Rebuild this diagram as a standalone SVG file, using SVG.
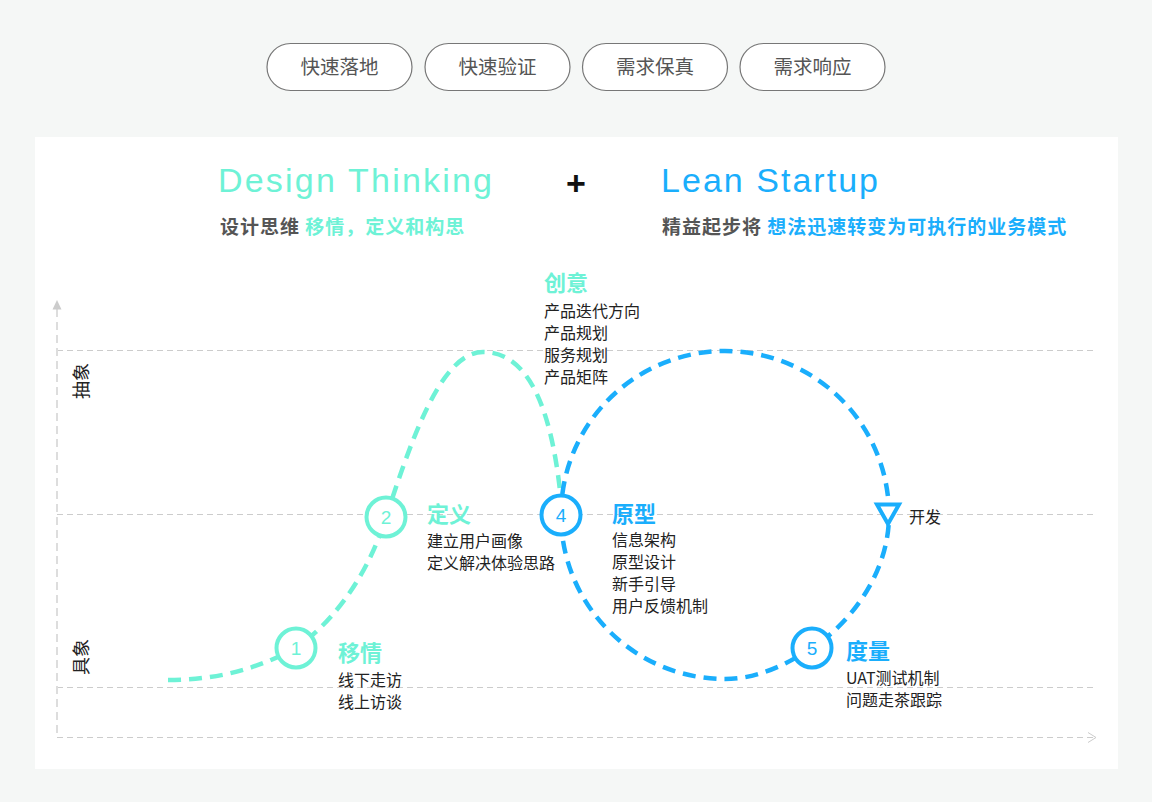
<svg xmlns="http://www.w3.org/2000/svg" width="1152" height="802" viewBox="0 0 1152 802">
<style>
.pill{fill:#fff;stroke:#777;stroke-width:1.2}
.pt{font-family:"Noto Sans CJK SC","Noto Sans",sans-serif;font-size:19.5px;fill:#555;text-anchor:middle}
.title{font-family:"Liberation Sans","Noto Sans",sans-serif;font-size:34px}
.sub{font-family:"Noto Sans CJK SC",sans-serif;font-size:19px;font-weight:bold;letter-spacing:1px}
.grid{stroke:#ccc;stroke-width:1;stroke-dasharray:6 4;fill:none}
.axis{stroke:#ddd;stroke-width:2;stroke-dasharray:8 5;fill:none}
.g{fill:#6ef2d6}.b{fill:#1aaefc}
.gs{stroke:#6ef2d6}.bs{stroke:#1aaefc}
.curve{fill:none;stroke-width:4.5;stroke-dasharray:13 8}
.node{fill:#fff;stroke-width:4}
.num{font-family:"Liberation Sans","Noto Sans",sans-serif;font-size:19px;text-anchor:middle}
.h{font-family:"Noto Sans CJK SC",sans-serif;font-size:22px;font-weight:bold}
.d{font-family:"Noto Sans CJK SC",sans-serif;font-size:16px;fill:#222}
.ax{font-family:"Noto Sans CJK SC",sans-serif;font-size:18px;fill:#222;text-anchor:middle}
</style>
<rect x="0" y="0" width="1152" height="802" fill="#f5f7f6"/>
<g id="pills">
<rect class="pill" x="267" y="43.5" width="145" height="47" rx="23.5"/>
<text class="pt" x="339.5" y="74">快速落地</text>
<rect class="pill" x="425" y="43.5" width="145" height="47" rx="23.5"/>
<text class="pt" x="497.5" y="74">快速验证</text>
<rect class="pill" x="582.5" y="43.5" width="145" height="47" rx="23.5"/>
<text class="pt" x="655" y="74">需求保真</text>
<rect class="pill" x="740" y="43.5" width="145" height="47" rx="23.5"/>
<text class="pt" x="812.5" y="74">需求响应</text>
</g>
<rect x="35" y="137" width="1083" height="632" fill="#fff"/>
<g id="titles">
<text class="title g" x="218" y="192" textLength="274" lengthAdjust="spacing">Design Thinking</text>
<text x="576" y="195" font-family="Liberation Sans,sans-serif" font-size="34" font-weight="bold" fill="#111" text-anchor="middle">+</text>
<text class="title b" x="661" y="192" textLength="217" lengthAdjust="spacing">Lean Startup</text>
<text class="sub" x="220" y="234"><tspan fill="#555">设计思维 </tspan><tspan class="g">移情，定义和构思</tspan></text>
<text class="sub" x="662" y="234"><tspan fill="#555">精益起步将 </tspan><tspan class="b">想法迅速转变为可执行的业务模式</tspan></text>
</g>
<g id="axes">
<line class="grid" x1="57" y1="350.5" x2="1093" y2="350.5"/>
<line class="grid" x1="57" y1="514.5" x2="1093" y2="514.5"/>
<line class="grid" x1="57" y1="687.5" x2="1093" y2="687.5"/>
<line class="grid" x1="57" y1="737.5" x2="1094" y2="737.5"/>
<polyline points="1088,732.5 1096,737.5 1088,742.5" fill="none" stroke="#ccc" stroke-width="1"/>
<line class="axis" x1="57" y1="309" x2="57" y2="737"/>
<polygon points="57,300 52.5,309.5 61.5,309.5" fill="#ccc"/>
<text class="ax" transform="translate(82,381) rotate(-90)" x="0" y="6">抽象</text>
<text class="ax" transform="translate(82,657) rotate(-90)" x="0" y="6">具象</text>
</g>
<g id="connectors">
<path class="curve gs" d="M168,680 C215,680 255,670 296,648 C325,628 365,585 386,517 C410,445 440,352 483,352 C533,352 553,420 561,500"/>
<path class="curve bs" d="M561,515 A164,164 0 0 1 889,515 C889,575 848,625 812,648 C790,662 760,679 725,679 A164,164 0 0 1 561,515"/>
</g>
<g id="n1">
<circle class="node gs" cx="296" cy="648" r="19.5"/>
<text class="num g" x="296" y="655">1</text>
<text class="h g" x="338" y="661">移情</text>
<text class="d" x="338" y="686">线下走访</text>
<text class="d" x="338" y="708">线上访谈</text>
</g>
<g id="n2">
<circle class="node gs" cx="386" cy="517" r="19.5"/>
<text class="num g" x="386" y="524">2</text>
<text class="h g" x="427" y="522">定义</text>
<text class="d" x="427" y="547">建立用户画像</text>
<text class="d" x="427" y="569">定义解决体验思路</text>
</g>
<g id="n3">
<text class="h g" x="544" y="291">创意</text>
<text class="d" x="544" y="317">产品迭代方向</text>
<text class="d" x="544" y="339">产品规划</text>
<text class="d" x="544" y="361">服务规划</text>
<text class="d" x="544" y="383">产品矩阵</text>
</g>
<g id="n4">
<circle class="node bs" cx="561" cy="515" r="19.5"/>
<text class="num b" x="561" y="522">4</text>
<text class="h b" x="612" y="522">原型</text>
<text class="d" x="612" y="546">信息架构</text>
<text class="d" x="612" y="568">原型设计</text>
<text class="d" x="612" y="590">新手引导</text>
<text class="d" x="612" y="612">用户反馈机制</text>
</g>
<g id="n5">
<circle class="node bs" cx="812" cy="648" r="19.5"/>
<text class="num b" x="812" y="655">5</text>
<text class="h b" x="846" y="659">度量</text>
<text class="d" x="846" y="684">UAT测试机制</text>
<text class="d" x="846" y="706">问题走茶跟踪</text>
</g>
<g id="dev">
<polygon points="877,504.5 899,504.5 888,524" fill="#fff" stroke="#1aaefc" stroke-width="4" stroke-linejoin="miter"/>
<text class="d" x="909" y="523">开发</text>
</g>
</svg>
